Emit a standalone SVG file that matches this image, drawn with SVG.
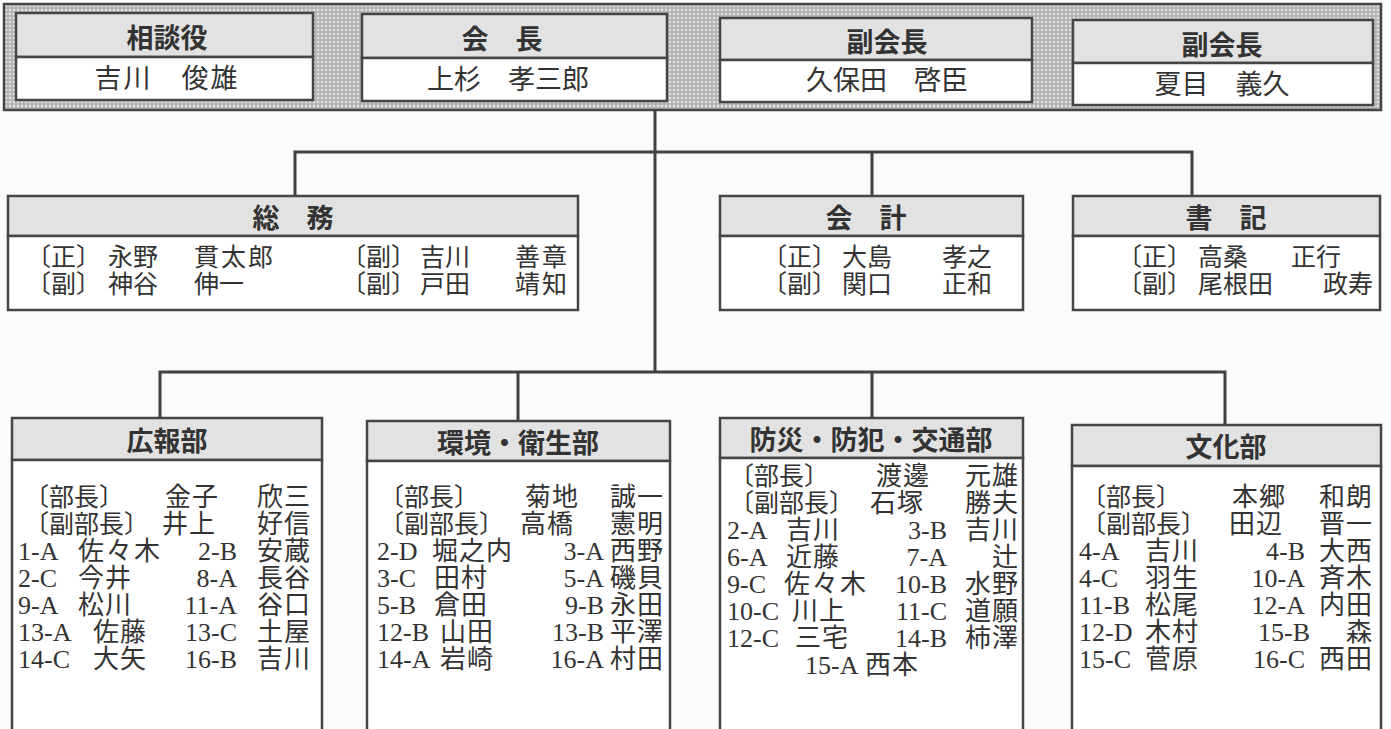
<svg xmlns="http://www.w3.org/2000/svg" width="1391" height="729" viewBox="0 0 1391 729">
<defs>
<pattern id="mesh" width="4" height="4" patternUnits="userSpaceOnUse">
<rect width="4" height="4" fill="#b2b2b2"/>
<circle cx="2" cy="2" r="1.3" fill="#e2e2e2"/>
</pattern>
<style>
.bx{fill:#ffffff;stroke:#454545;stroke-width:2.5}
.hd{fill:#e2e2e2;stroke:#454545;stroke-width:2.5}
.ln{fill:none;stroke:#404040;stroke-width:3}
.tt{font-family:"Noto Sans CJK JP",sans-serif;font-weight:bold;font-size:27px;fill:#333;text-anchor:middle;dominant-baseline:central}
.nm{font-family:"Liberation Serif","Noto Sans CJK JP",serif;font-size:27px;fill:#333;text-anchor:middle;dominant-baseline:central}
.t{font-family:"Liberation Serif","Noto Sans CJK JP",serif;font-size:25px;fill:#333;dominant-baseline:central}
.b{font-family:"Liberation Serif","Noto Sans CJK JP",serif;font-size:25px;fill:#333;dominant-baseline:central}
.c{font-size:26px}
.n{font-size:26px;letter-spacing:1px}
.w{letter-spacing:2px}
.e{text-anchor:end}
</style>
</defs>
<rect width="1391" height="729" fill="#fbfbfb"/>

<g id="top-band">
<rect x="4" y="4" width="1377" height="106" fill="url(#mesh)" stroke="#454545" stroke-width="2.5"/>
</g>

<g id="connectors">
<path class="ln" d="M655 110 V372"/>
<path class="ln" d="M295 196 V152 H1192 V196"/>
<path class="ln" d="M872 152 V196"/>
<path class="ln" d="M160 418 V372 H1225 V425"/>
<path class="ln" d="M518 372 V421"/>
<path class="ln" d="M872 372 V418"/>
</g>

<g id="soudanyaku">
<rect class="hd" x="16" y="13" width="297" height="44"/>
<rect class="bx" x="16" y="57" width="297" height="43"/>
<text class="tt" x="167" y="36">相談役</text>
<text class="nm" x="167" y="79" style="letter-spacing:2px">吉川　俊雄</text>
</g>

<g id="kaicho">
<rect class="hd" x="362" y="14" width="305" height="44"/>
<rect class="bx" x="362" y="58" width="305" height="43"/>
<text class="tt" x="502" y="37">会　長</text>
<text class="nm" x="508" y="80">上杉　孝三郎</text>
</g>

<g id="fukukaicho1">
<rect class="hd" x="720" y="18" width="312" height="42"/>
<rect class="bx" x="720" y="60" width="312" height="42"/>
<text class="tt" x="887" y="40">副会長</text>
<text class="nm" x="887" y="81">久保田　啓臣</text>
</g>

<g id="fukukaicho2">
<rect class="hd" x="1073" y="20" width="300" height="43"/>
<rect class="bx" x="1073" y="63" width="300" height="42"/>
<text class="tt" x="1222" y="43">副会長</text>
<text class="nm" x="1222" y="85">夏目　義久</text>
</g>

<g id="somu">
<rect class="hd" x="8" y="196" width="570" height="40"/>
<rect class="bx" x="8" y="236" width="570" height="74"/>
<text class="tt" x="293" y="216">総　務</text>
<text class="t" x="26" y="257">〔正〕</text><text class="t" x="108" y="257">永野</text><text class="t w" x="194" y="257">貫太郎</text>
<text class="t" x="26" y="284">〔副〕</text><text class="t" x="108" y="284">神谷</text><text class="t" x="194" y="284">伸一</text>
<text class="t" x="341" y="257">〔副〕</text><text class="t" x="420" y="257">吉川</text><text class="t w e" x="569" y="257">善章</text>
<text class="t" x="341" y="284">〔副〕</text><text class="t" x="420" y="284">戸田</text><text class="t w e" x="569" y="284">靖知</text>
</g>

<g id="kaikei">
<rect class="hd" x="720" y="196" width="303" height="40"/>
<rect class="bx" x="720" y="236" width="303" height="74"/>
<text class="tt" x="866" y="216">会　計</text>
<text class="t" x="762" y="257">〔正〕</text><text class="t" x="842" y="257">大島</text><text class="t e" x="992" y="257">孝之</text>
<text class="t" x="762" y="284">〔副〕</text><text class="t" x="842" y="284">関口</text><text class="t e" x="992" y="284">正和</text>
</g>

<g id="shoki">
<rect class="hd" x="1073" y="196" width="307" height="40"/>
<rect class="bx" x="1073" y="236" width="307" height="74"/>
<text class="tt" x="1226" y="216">書　記</text>
<text class="t" x="1117" y="257">〔正〕</text><text class="t" x="1198" y="257">高桑</text><text class="t e" x="1341" y="257">正行</text>
<text class="t" x="1117" y="284">〔副〕</text><text class="t" x="1198" y="284">尾根田</text><text class="t e" x="1373" y="284">政寿</text>
</g>

<g id="kohobu">
<rect class="hd" x="12" y="418" width="310" height="42"/>
<rect class="bx" x="12" y="460" width="310" height="285"/>
<text class="tt" x="167" y="439">広報部</text>
<text class="b" x="24" y="497">〔部長〕</text><text class="b n" x="165" y="497">金子</text><text class="b n e" x="311" y="497">欣三</text>
<text class="b" x="24" y="524">〔副部長〕</text><text class="b n" x="162" y="524">井上</text><text class="b n e" x="311" y="524">好信</text>
<text class="b c" x="18" y="551">1-A</text><text class="b n w" x="78" y="551">佐々木</text><text class="b c e" x="237" y="551">2-B</text><text class="b n e" x="311" y="551">安蔵</text>
<text class="b c" x="18" y="578">2-C</text><text class="b n" x="78" y="578">今井</text><text class="b c e" x="237" y="578">8-A</text><text class="b n e" x="311" y="578">長谷</text>
<text class="b c" x="18" y="605">9-A</text><text class="b n" x="78" y="605">松川</text><text class="b c e" x="237" y="605">11-A</text><text class="b n e" x="311" y="605">谷口</text>
<text class="b c" x="18" y="632">13-A</text><text class="b n" x="93" y="632">佐藤</text><text class="b c e" x="237" y="632">13-C</text><text class="b n e" x="311" y="632">土屋</text>
<text class="b c" x="18" y="659">14-C</text><text class="b n" x="93" y="659">大矢</text><text class="b c e" x="237" y="659">16-B</text><text class="b n e" x="311" y="659">吉川</text>
</g>

<g id="kankyobu">
<rect class="hd" x="367" y="421" width="303" height="40"/>
<rect class="bx" x="367" y="461" width="303" height="285"/>
<text class="tt" x="518" y="441">環境・衛生部</text>
<text class="b" x="379" y="497">〔部長〕</text><text class="b n" x="525" y="497">菊地</text><text class="b n e" x="664" y="497">誠一</text>
<text class="b" x="379" y="524">〔副部長〕</text><text class="b n" x="520" y="524">高橋</text><text class="b n e" x="664" y="524">憲明</text>
<text class="b c" x="377" y="551">2-D</text><text class="b n" x="432" y="551">堀之内</text><text class="b c e" x="604" y="551">3-A</text><text class="b n e" x="664" y="551">西野</text>
<text class="b c" x="377" y="578">3-C</text><text class="b n" x="434" y="578">田村</text><text class="b c e" x="604" y="578">5-A</text><text class="b n e" x="664" y="578">磯貝</text>
<text class="b c" x="377" y="605">5-B</text><text class="b n" x="434" y="605">倉田</text><text class="b c e" x="604" y="605">9-B</text><text class="b n e" x="664" y="605">永田</text>
<text class="b c" x="377" y="632">12-B</text><text class="b n" x="440" y="632">山田</text><text class="b c e" x="604" y="632">13-B</text><text class="b n e" x="664" y="632">平澤</text>
<text class="b c" x="377" y="659">14-A</text><text class="b n" x="440" y="659">岩崎</text><text class="b c e" x="604" y="659">16-A</text><text class="b n e" x="664" y="659">村田</text>
</g>

<g id="bosaibu">
<rect class="hd" x="720" y="418" width="303" height="40"/>
<rect class="bx" x="720" y="458" width="303" height="285"/>
<text class="tt" x="871" y="438">防災・防犯・交通部</text>
<text class="b" x="729" y="476">〔部長〕</text><text class="b n" x="876" y="476">渡邊</text><text class="b n e" x="1019" y="476">元雄</text>
<text class="b" x="729" y="503">〔副部長〕</text><text class="b n" x="870" y="503">石塚</text><text class="b n e" x="1019" y="503">勝夫</text>
<text class="b c" x="727" y="530">2-A</text><text class="b n" x="786" y="530">吉川</text><text class="b c e" x="947" y="530">3-B</text><text class="b n e" x="1019" y="530">吉川</text>
<text class="b c" x="727" y="557">6-A</text><text class="b n" x="786" y="557">近藤</text><text class="b c e" x="947" y="557">7-A</text><text class="b n e" x="1019" y="557">辻</text>
<text class="b c" x="727" y="584">9-C</text><text class="b n w" x="784" y="584">佐々木</text><text class="b c e" x="947" y="584">10-B</text><text class="b n e" x="1019" y="584">水野</text>
<text class="b c" x="727" y="611">10-C</text><text class="b n" x="792" y="611">川上</text><text class="b c e" x="947" y="611">11-C</text><text class="b n e" x="1019" y="611">道願</text>
<text class="b c" x="727" y="638">12-C</text><text class="b n" x="795" y="638">三宅</text><text class="b c e" x="947" y="638">14-B</text><text class="b n e" x="1019" y="638">柿澤</text>
<text class="b c" x="805" y="665">15-A</text><text class="b n" x="865" y="665">西本</text>
</g>

<g id="bunkabu">
<rect class="hd" x="1072" y="425" width="309" height="41"/>
<rect class="bx" x="1072" y="466" width="309" height="280"/>
<text class="tt" x="1226" y="445">文化部</text>
<text class="b" x="1081" y="497">〔部長〕</text><text class="b n" x="1232" y="497">本郷</text><text class="b n e" x="1373" y="497">和朗</text>
<text class="b" x="1081" y="524">〔副部長〕</text><text class="b n" x="1229" y="524">田辺</text><text class="b n e" x="1373" y="524">晋一</text>
<text class="b c" x="1079" y="551">4-A</text><text class="b n" x="1145" y="551">吉川</text><text class="b c e" x="1305" y="551">4-B</text><text class="b n e" x="1373" y="551">大西</text>
<text class="b c" x="1079" y="578">4-C</text><text class="b n" x="1145" y="578">羽生</text><text class="b c e" x="1305" y="578">10-A</text><text class="b n e" x="1373" y="578">斉木</text>
<text class="b c" x="1079" y="605">11-B</text><text class="b n" x="1145" y="605">松尾</text><text class="b c e" x="1305" y="605">12-A</text><text class="b n e" x="1373" y="605">内田</text>
<text class="b c" x="1079" y="632">12-D</text><text class="b n" x="1145" y="632">木村</text><text class="b c e" x="1310" y="632">15-B</text><text class="b n e" x="1373" y="632">森</text>
<text class="b c" x="1079" y="659">15-C</text><text class="b n" x="1145" y="659">菅原</text><text class="b c e" x="1305" y="659">16-C</text><text class="b n e" x="1373" y="659">西田</text>
</g>
</svg>
